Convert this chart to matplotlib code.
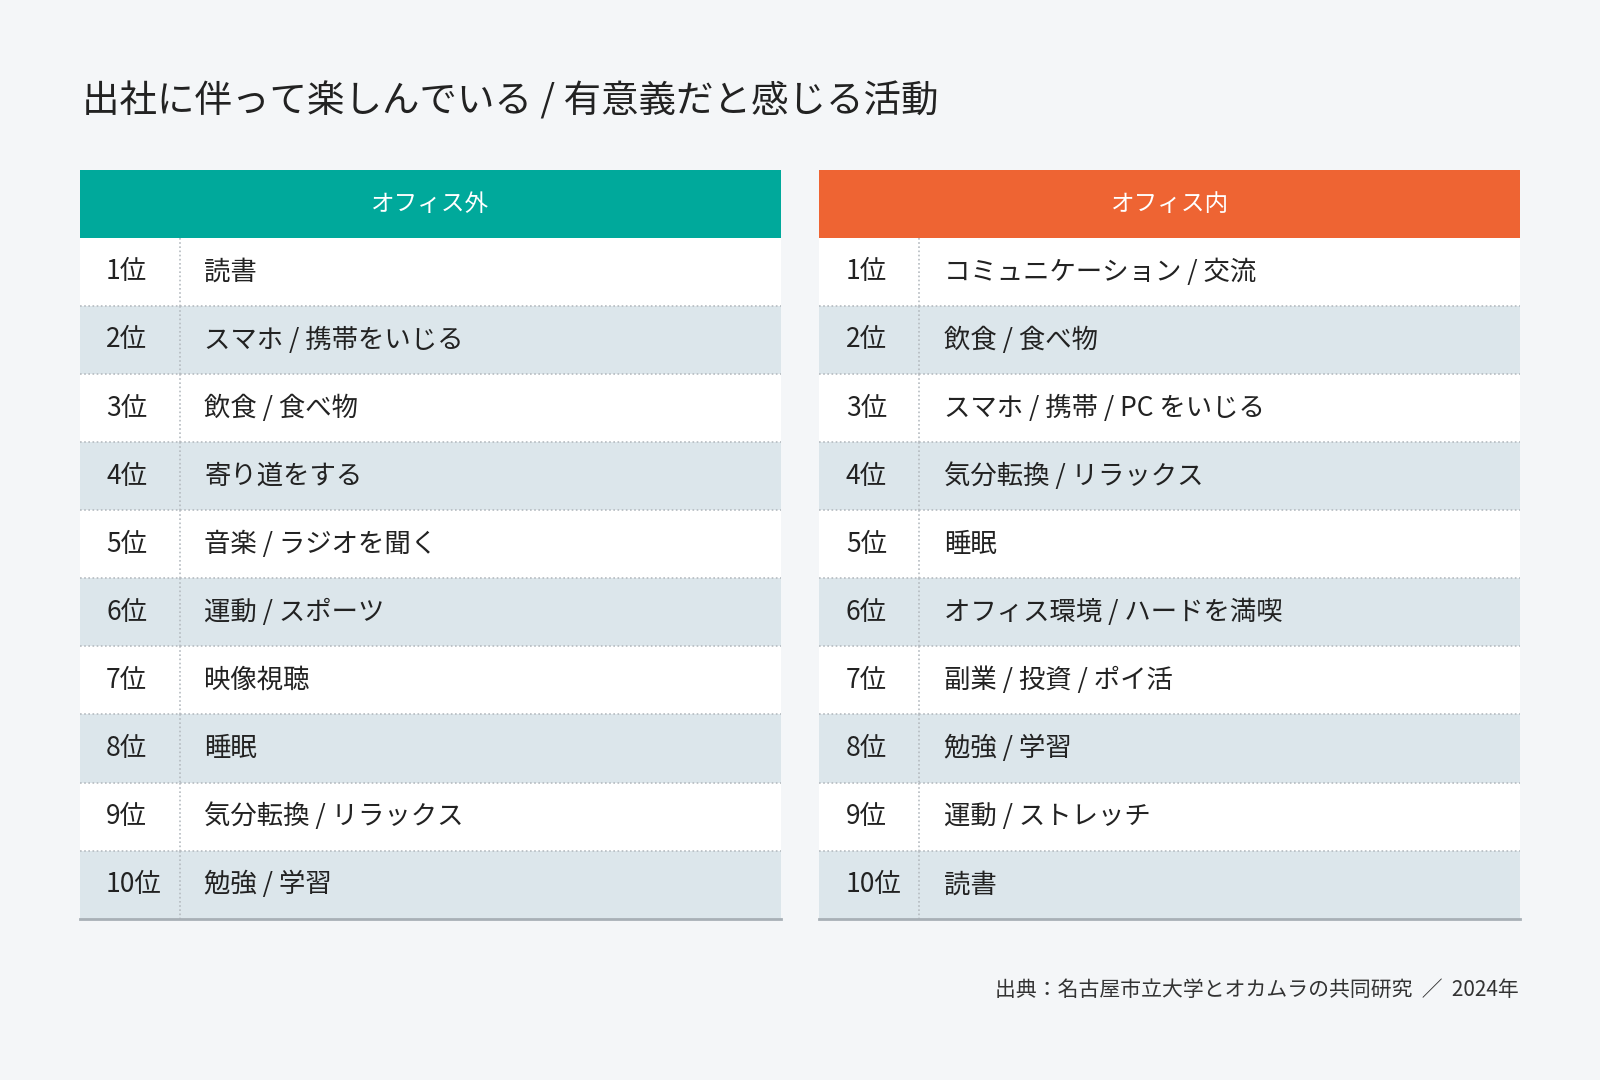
import matplotlib
matplotlib.use("Agg")
import matplotlib.pyplot as plt
from matplotlib.patches import Rectangle

plt.rcParams['font.family'] = ['Noto Sans CJK JP', 'DejaVu Sans']

title = "出社に伴って楽しんでいる / 有意義だと感じる活動"
headers = ["オフィス外", "オフィス内"]
header_colors = ["#00A99B", "#EE6433"]
ranks = [f"{i}位" for i in range(1, 11)]
outside = ["読書", "スマホ / 携帯をいじる", "飲食 / 食べ物", "寄り道をする", "音楽 / ラジオを聞く",
           "運動 / スポーツ", "映像視聴", "睡眠", "気分転換 / リラックス", "勉強 / 学習"]
inside = ["コミュニケーション / 交流", "飲食 / 食べ物", "スマホ / 携帯 / PC をいじる", "気分転換 / リラックス",
          "睡眠", "オフィス環境 / ハードを満喫", "副業 / 投資 / ポイ活", "勉強 / 学習", "運動 / ストレッチ", "読書"]
source = "出典：名古屋市立大学とオカムラの共同研究  ／  2024年"

W, H = 1568, 1058
fig = plt.figure(figsize=(16, 10.8), dpi=100)
fig.patch.set_facecolor("#F4F6F8")
ax = fig.add_axes([0, 0, 1, 1])
ax.set_xlim(0, W); ax.set_ylim(H, 0); ax.axis("off")

ax.text(80, 100, title, fontsize=27, va="center", ha="left", color="#222222")

top, hh, rh = 167, 66, 66.7
for t, (x0, hdr, col, items) in enumerate([(78, headers[0], header_colors[0], outside),
                                            (803, headers[1], header_colors[1], inside)]):
    w = 687
    ax.add_patch(Rectangle((x0, top), w, hh, color=col, lw=0))
    ax.text(x0 + w / 2, top + hh / 2, hdr, color="white", fontsize=17, ha="center", va="center")
    for i, (r, it) in enumerate(zip(ranks, items)):
        y = top + hh + i * rh
        fc = "white" if i % 2 == 0 else "#DCE6EB"
        ax.add_patch(Rectangle((x0, y), w, rh, color=fc, lw=0))
        ax.plot([x0 + 98, x0 + 98], [y, y + rh], color="#B5BBC0", lw=1.2, ls=(0, (1, 1.5)))
        if i < 9:
            ax.plot([x0, x0 + w], [y + rh, y + rh], color="#B5BBC0", lw=1.2, ls=(0, (1, 1.5)))
        ax.text(x0 + 26, y + rh / 2, r, fontsize=19, ha="left", va="center", color="#222222")
        ax.text(x0 + 122, y + rh / 2, it, fontsize=19, ha="left", va="center", color="#222222")
    yb = top + hh + 10 * rh
    ax.plot([x0, x0 + w], [yb, yb], color="#A8B0B6", lw=2)

ax.text(1488, 970, source, fontsize=15, ha="right", va="center", color="#333333")
fig.savefig("out.png", dpi=100, facecolor=fig.get_facecolor())
